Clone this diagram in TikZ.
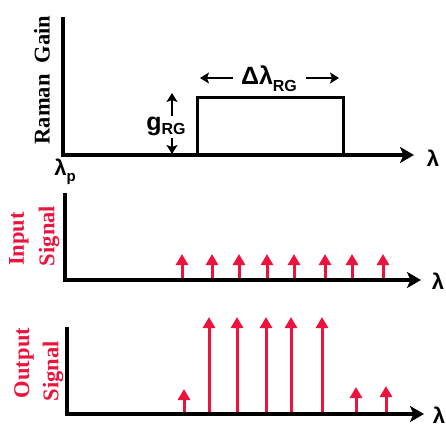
\documentclass[tikz,border=0pt]{standalone}
\usepackage{fontspec}
\setmainfont{Liberation Serif}
\newfontfamily\sansb{Liberation Sans}
\usetikzlibrary{arrows.meta}
\definecolor{sigred}{RGB}{236,20,60}
\begin{document}
\begin{tikzpicture}[x=1pt,y=-1pt,
  axis/.style={line width=3.6pt,line join=miter,-{Stealth[length=14pt,width=16pt,inset=3.5pt]}},
  gainbox/.style={line width=3pt,line join=miter},
  sig/.style={sigred,line width=3pt,-{Triangle[length=11pt,width=12pt]}},
  dim/.style={line width=2.6pt,-{Stealth[length=9pt,width=11pt,inset=2pt]}},
  ylab/.style={rotate=90,font=\fontsize{22.5}{22.5}\selectfont\bfseries,inner sep=0pt},
  mlab/.style={font=\sansb\fontsize{22}{22}\selectfont\bfseries,inner sep=0pt},
  blab/.style={font=\sansb\fontsize{25}{25}\selectfont\bfseries,inner sep=0pt},
]
\useasboundingbox (0,0) rectangle (446,427);
% ---------- top panel ----------
\coordinate (y1) at (63,17);
\coordinate (o1) at (63,155);
\coordinate (x1) at (414,155);
\draw[axis] (y1) -- (o1) -- (x1);
\node[mlab] (lam1) at (433,158) {λ};
\node[mlab] (lamp) at (65,172) {λ\raisebox{-6pt}{\fontsize{15}{15}\selectfont p}};
\node[ylab] (rg) at (42,80) {Raman\ \ Gain};
\coordinate (r1) at (197,155);
\coordinate (r2) at (197,98);
\coordinate (r3) at (343,98);
\coordinate (r4) at (343,155);
\draw[gainbox] (r1) -- (r2) -- (r3) -- (r4);
\node[blab] (dl) at (269,79) {Δλ\raisebox{-7pt}{\fontsize{16}{16}\selectfont RG}};
\coordinate (dlL) at (233,78);
\coordinate (dlLt) at (200,78);
\coordinate (dlR) at (306,78);
\coordinate (dlRt) at (339,78);
\draw[dim] (dlL) -- (dlLt);
\draw[dim] (dlR) -- (dlRt);
\node[blab] (g) at (166,126) {g\raisebox{-4pt}{\fontsize{16}{16}\selectfont RG}};
\coordinate (gu0) at (172,116);
\coordinate (gu1) at (172,93);
\coordinate (gd0) at (172,138);
\coordinate (gd1) at (172,154);
\draw[dim,line width=2.4pt] (gu0) -- (gu1);
\draw[dim,line width=2.4pt] (gd0) -- (gd1);
% ---------- middle panel ----------
\coordinate (y2) at (65,193);
\coordinate (o2) at (65,280);
\coordinate (x2) at (421,280);
\draw[axis] (y2) -- (o2) -- (x2);
\node[mlab] (lam2) at (438,281) {λ};
\node[ylab,sigred] (in1) at (19,239) {Input};
\node[ylab,sigred] (in2) at (49,236) {Signal};
\foreach \i/\x in {1/182,2/212,3/239,4/267,5/294,6/325,7/352,8/383}{
  \coordinate (ib\i) at (\x,278);
  \coordinate (it\i) at (\x,254);
  \draw[sig] (ib\i) -- (it\i);
}
% ---------- bottom panel ----------
\coordinate (y3) at (67,327);
\coordinate (o3) at (67,414);
\coordinate (x3) at (424,414);
\draw[axis] (y3) -- (o3) -- (x3);
\node[mlab] (lam3) at (439,415) {λ};
\node[ylab,sigred] (out1) at (24,363) {Output};
\node[ylab,sigred] (out2) at (53,371) {Signal};
\foreach \i/\x/\t in {1/184/389,2/209/317,3/237/317,4/266/317,5/291/317,6/322/317,7/356/387,8/386/386}{
  \coordinate (ob\i) at (\x,412);
  \coordinate (ot\i) at (\x,\t);
  \draw[sig] (ob\i) -- (ot\i);
}
\end{tikzpicture}
\end{document}
